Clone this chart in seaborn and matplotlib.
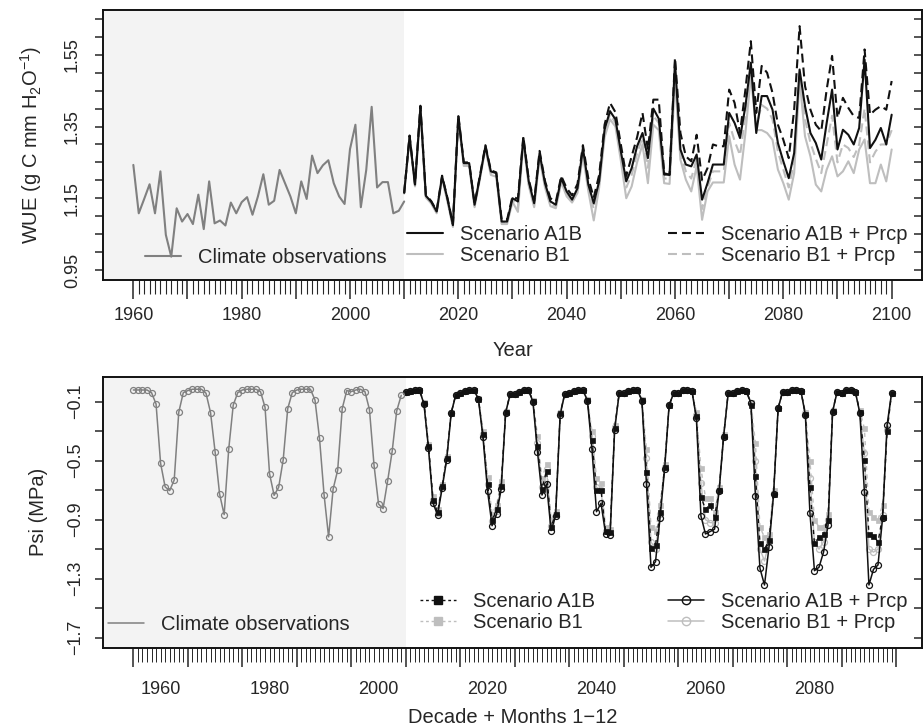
import numpy as np
import pandas as pd
import matplotlib
matplotlib.use('Agg')
import matplotlib.pyplot as plt
from matplotlib.lines import Line2D
import seaborn as sns

### Dados - painel superior (WUE anual)
obs_years = list(range(1960, 2011))
wue_obs = [1.243, 1.108, 1.148, 1.189, 1.108, 1.225, 1.048, 0.987, 1.122, 1.085,
           1.106, 1.078, 1.160, 1.064, 1.197, 1.080, 1.088, 1.074, 1.138, 1.108,
           1.139, 1.153, 1.104, 1.155, 1.217, 1.132, 1.143, 1.229, 1.192, 1.155,
           1.108, 1.197, 1.148, 1.269, 1.220, 1.242, 1.256, 1.192, 1.155, 1.134,
           1.287, 1.355, 1.125, 1.229, 1.405, 1.180, 1.195, 1.195, 1.108, 1.115,
           1.141]

scen_years = list(range(2010, 2101))
wue_a1b = [1.165, 1.323, 1.188, 1.405, 1.157, 1.140, 1.113, 1.211, 1.148, 1.075,
           1.379, 1.248, 1.248, 1.132, 1.211, 1.295, 1.225, 1.220, 1.085, 1.085,
           1.150, 1.141, 1.318, 1.197, 1.136, 1.276, 1.192, 1.141, 1.132, 1.206,
           1.169, 1.146, 1.178, 1.290, 1.188, 1.136, 1.197, 1.342, 1.393, 1.370,
           1.281, 1.197, 1.234, 1.295, 1.332, 1.262, 1.400, 1.372, 1.216, 1.216,
           1.530, 1.286, 1.244, 1.239, 1.272, 1.146, 1.192, 1.244, 1.244, 1.244,
           1.388, 1.360, 1.318, 1.407, 1.528, 1.332, 1.435, 1.435, 1.397, 1.304,
           1.253, 1.206, 1.276, 1.509, 1.407, 1.332, 1.304, 1.258, 1.360, 1.453,
           1.286, 1.341, 1.327, 1.300, 1.346, 1.537, 1.290, 1.313, 1.346, 1.300,
           1.383]
wue_b1 = [1.163, 1.318, 1.183, 1.395, 1.152, 1.135, 1.108, 1.205, 1.140, 1.070,
          1.370, 1.240, 1.240, 1.125, 1.205, 1.288, 1.215, 1.210, 1.078, 1.078,
          1.140, 1.112, 1.305, 1.185, 1.125, 1.262, 1.180, 1.128, 1.122, 1.195,
          1.155, 1.138, 1.165, 1.270, 1.170, 1.088, 1.180, 1.320, 1.370, 1.350,
          1.255, 1.150, 1.183, 1.250, 1.300, 1.192, 1.355, 1.340, 1.192, 1.190,
          1.481, 1.258, 1.202, 1.169, 1.239, 1.090, 1.169, 1.194, 1.194, 1.194,
          1.323, 1.244, 1.202, 1.332, 1.490, 1.340, 1.340, 1.332, 1.313, 1.230,
          1.192, 1.146, 1.220, 1.481, 1.323, 1.267, 1.188, 1.169, 1.230, 1.267,
          1.211, 1.225, 1.253, 1.220, 1.286, 1.314, 1.192, 1.192, 1.244, 1.197,
          1.286]
wue_a1b_prcp = [1.165, 1.325, 1.190, 1.408, 1.160, 1.142, 1.115, 1.213, 1.150, 1.078,
                1.382, 1.250, 1.250, 1.134, 1.214, 1.298, 1.228, 1.222, 1.090, 1.090,
                1.155, 1.148, 1.322, 1.202, 1.142, 1.282, 1.198, 1.150, 1.140, 1.212,
                1.178, 1.158, 1.190, 1.298, 1.205, 1.152, 1.215, 1.355, 1.416, 1.390,
                1.300, 1.212, 1.267, 1.320, 1.388, 1.285, 1.425, 1.425, 1.220, 1.215,
                1.542, 1.332, 1.267, 1.253, 1.327, 1.200, 1.234, 1.300, 1.295, 1.295,
                1.453, 1.416, 1.332, 1.453, 1.588, 1.388, 1.519, 1.500, 1.444, 1.355,
                1.313, 1.262, 1.397, 1.630, 1.463, 1.397, 1.355, 1.337, 1.453, 1.547,
                1.374, 1.430, 1.402, 1.379, 1.374, 1.565, 1.383, 1.397, 1.407, 1.397,
                1.477]
wue_b1_prcp = [1.164, 1.320, 1.185, 1.400, 1.155, 1.137, 1.110, 1.208, 1.144, 1.072,
               1.374, 1.244, 1.244, 1.128, 1.208, 1.291, 1.220, 1.215, 1.082, 1.082,
               1.145, 1.125, 1.312, 1.190, 1.130, 1.270, 1.186, 1.135, 1.127, 1.200,
               1.162, 1.142, 1.172, 1.280, 1.180, 1.120, 1.190, 1.330, 1.385, 1.360,
               1.270, 1.180, 1.215, 1.275, 1.320, 1.235, 1.380, 1.360, 1.205, 1.205,
               1.500, 1.275, 1.225, 1.205, 1.260, 1.120, 1.180, 1.225, 1.225, 1.225,
               1.360, 1.310, 1.270, 1.380, 1.515, 1.350, 1.410, 1.400, 1.370, 1.280,
               1.230, 1.180, 1.250, 1.500, 1.370, 1.305, 1.260, 1.220, 1.300, 1.380,
               1.250, 1.300, 1.290, 1.265, 1.300, 1.400, 1.250, 1.280, 1.300, 1.300,
               1.340]

### Dados - painel inferior (Psi mensal por década)
months = list(range(1, 13))
obs_decades = [1960, 1970, 1980, 1990, 2000]
scen_decades = [2010, 2020, 2030, 2040, 2050, 2060, 2070, 2080, 2090]

psi_obs = [-0.021, -0.021, -0.021, -0.021, -0.039, -0.116, -0.518, -0.678, -0.703, -0.631, -0.172, -0.039,
           -0.025, -0.016, -0.016, -0.016, -0.043, -0.174, -0.439, -0.728, -0.866, -0.423, -0.123, -0.039,
           -0.021, -0.016, -0.016, -0.016, -0.032, -0.138, -0.590, -0.735, -0.681, -0.495, -0.147, -0.039,
           -0.021, -0.016, -0.016, -0.016, -0.089, -0.349, -0.730, -1.017, -0.692, -0.565, -0.147, -0.025,
           -0.032, -0.021, -0.016, -0.032, -0.154, -0.529, -0.794, -0.825, -0.638, -0.437, -0.163, -0.057]

psi_a1b = [-0.035, -0.025, -0.020, -0.020, -0.110, -0.400, -0.770, -0.850, -0.675, -0.485, -0.175, -0.055,
           -0.043, -0.025, -0.021, -0.021, -0.080, -0.320, -0.660, -0.900, -0.830, -0.670, -0.170, -0.048,
           -0.048, -0.032, -0.021, -0.021, -0.095, -0.400, -0.690, -0.570, -0.950, -0.860, -0.180, -0.048,
           -0.043, -0.025, -0.021, -0.021, -0.090, -0.360, -0.700, -0.700, -0.980, -0.985, -0.280, -0.043,
           -0.043, -0.025, -0.021, -0.021, -0.090, -0.575, -1.090, -1.070, -0.850, -0.545, -0.125, -0.043,
           -0.043, -0.021, -0.021, -0.025, -0.200, -0.744, -0.830, -0.800, -0.880, -0.700, -0.330, -0.043,
           -0.043, -0.025, -0.021, -0.025, -0.120, -0.602, -1.060, -1.100, -1.040, -0.725, -0.145, -0.032,
           -0.032, -0.021, -0.021, -0.025, -0.185, -0.680, -1.060, -1.020, -1.000, -0.900, -0.165, -0.032,
           -0.043, -0.021, -0.021, -0.032, -0.170, -0.495, -1.000, -1.011, -1.050, -0.880, -0.300, -0.039]
psi_b1 = [-0.035, -0.025, -0.020, -0.020, -0.105, -0.390, -0.740, -0.830, -0.660, -0.470, -0.170, -0.055,
          -0.043, -0.025, -0.021, -0.021, -0.075, -0.300, -0.608, -0.860, -0.800, -0.640, -0.165, -0.048,
          -0.048, -0.032, -0.021, -0.021, -0.090, -0.330, -0.620, -0.520, -0.900, -0.840, -0.170, -0.048,
          -0.043, -0.025, -0.021, -0.021, -0.085, -0.300, -0.620, -0.650, -0.950, -0.960, -0.260, -0.043,
          -0.043, -0.025, -0.021, -0.021, -0.085, -0.420, -0.950, -0.980, -0.800, -0.520, -0.120, -0.043,
          -0.043, -0.021, -0.021, -0.025, -0.170, -0.552, -0.750, -0.750, -0.850, -0.680, -0.320, -0.043,
          -0.043, -0.025, -0.021, -0.025, -0.100, -0.382, -0.950, -1.020, -1.000, -0.700, -0.140, -0.032,
          -0.032, -0.021, -0.021, -0.025, -0.170, -0.500, -0.900, -0.950, -0.950, -0.860, -0.160, -0.032,
          -0.043, -0.021, -0.021, -0.032, -0.160, -0.281, -0.846, -0.880, -0.900, -0.800, -0.290, -0.039]
psi_a1b_prcp = [-0.035, -0.025, -0.020, -0.020, -0.116, -0.416, -0.789, -0.868, -0.688, -0.495, -0.179, -0.055,
                -0.043, -0.025, -0.021, -0.021, -0.084, -0.342, -0.703, -0.941, -0.862, -0.694, -0.174, -0.048,
                -0.048, -0.032, -0.021, -0.021, -0.100, -0.439, -0.733, -0.658, -0.974, -0.875, -0.190, -0.048,
                -0.043, -0.025, -0.021, -0.021, -0.093, -0.423, -0.846, -0.789, -0.997, -1.004, -0.290, -0.043,
                -0.043, -0.025, -0.021, -0.021, -0.093, -0.658, -1.223, -1.185, -0.886, -0.559, -0.123, -0.043,
                -0.043, -0.021, -0.021, -0.025, -0.213, -0.875, -0.997, -0.981, -0.965, -0.706, -0.337, -0.043,
                -0.043, -0.025, -0.021, -0.025, -0.111, -0.737, -1.230, -1.343, -1.083, -0.728, -0.145, -0.032,
                -0.032, -0.021, -0.021, -0.025, -0.190, -0.852, -1.246, -1.223, -1.121, -0.936, -0.168, -0.032,
                -0.043, -0.021, -0.021, -0.032, -0.179, -0.710, -1.343, -1.237, -1.207, -0.891, -0.258, -0.039]
psi_b1_prcp = [-0.035, -0.025, -0.020, -0.020, -0.112, -0.405, -0.770, -0.855, -0.675, -0.480, -0.175, -0.055,
               -0.043, -0.025, -0.021, -0.021, -0.080, -0.320, -0.660, -0.910, -0.840, -0.670, -0.170, -0.048,
               -0.048, -0.032, -0.021, -0.021, -0.095, -0.380, -0.680, -0.560, -0.940, -0.860, -0.175, -0.048,
               -0.043, -0.025, -0.021, -0.021, -0.090, -0.330, -0.680, -0.700, -0.975, -0.980, -0.270, -0.043,
               -0.043, -0.025, -0.021, -0.021, -0.090, -0.484, -1.050, -1.100, -0.860, -0.540, -0.122, -0.043,
               -0.043, -0.021, -0.021, -0.025, -0.190, -0.650, -0.900, -0.920, -0.920, -0.700, -0.330, -0.043,
               -0.043, -0.025, -0.021, -0.025, -0.110, -0.500, -1.100, -1.180, -1.050, -0.720, -0.145, -0.032,
               -0.032, -0.021, -0.021, -0.025, -0.180, -0.620, -1.050, -1.100, -1.050, -0.900, -0.165, -0.032,
               -0.043, -0.021, -0.021, -0.032, -0.170, -0.450, -1.100, -1.120, -1.100, -0.870, -0.290, -0.039]

# Eixo x do painel inferior: cada década ocupa 10 unidades, meses 1-12
def decade_months(decades):
    return [d - 5 + (m - 1) * 10 / 12 for d in decades for m in months]

x_obs = decade_months(obs_decades)
x_scen = decade_months(scen_decades)

### Estilo
sns.set_theme(style='ticks')
plt.rcParams['font.family'] = ['Liberation Sans', 'DejaVu Sans']
plt.rcParams['mathtext.fontset'] = 'custom'
plt.rcParams['mathtext.rm'] = 'Liberation Sans'
plt.rcParams['mathtext.it'] = 'Liberation Sans:italic'
plt.rcParams['axes.linewidth'] = 1.4

BLACK = '#111111'
GRAY_OBS = '#808080'
GRAY_LT = '#bebebe'
SHADE = '#f3f3f3'
DASH = (0, (4.3, 2.4))
FS_TICK = 13
FS_LAB = 14.5

fig = plt.figure(figsize=(9.24, 7.28), dpi=100)
ax1 = fig.add_axes([103 / 924, 1 - 280 / 728, 819 / 924, 270 / 728])
ax2 = fig.add_axes([103 / 924, 1 - 647.7 / 728, 819 / 924, 271 / 728])

###################################################################################################
### Painel superior
ax1.set_xlim(1954.4, 2105.6)
ax1.set_ylim(0.922, 1.675)
ax1.axvspan(1954.4, 2010, color=SHADE, lw=0, zorder=0)

sns.lineplot(x=scen_years, y=wue_b1, ax=ax1, color=GRAY_LT, lw=1.5)
sns.lineplot(x=scen_years, y=wue_b1_prcp, ax=ax1, color=GRAY_LT, lw=1.5, linestyle=DASH)
sns.lineplot(x=scen_years, y=wue_a1b, ax=ax1, color=BLACK, lw=1.5)
sns.lineplot(x=scen_years, y=wue_a1b_prcp, ax=ax1, color=BLACK, lw=1.5, linestyle=DASH)
sns.lineplot(x=obs_years, y=wue_obs, ax=ax1, color=GRAY_OBS, lw=1.5)

ax1.set_xticks(range(1960, 2101, 10))
ax1.set_xticklabels([str(y) if (y - 1960) % 20 == 0 else '' for y in range(1960, 2101, 10)])
ax1.set_xticks(range(1960, 2101), minor=True)
ax1.tick_params(axis='x', which='major', length=13.5, width=1.1, pad=6, labelsize=FS_TICK)
ax1.tick_params(axis='x', which='minor', length=10, width=0.8)

wue_ticks = [0.95 + 0.05 * k for k in range(15)]
ax1.set_yticks(wue_ticks)
ax1.set_yticklabels(['0.95' if k == 0 else '1.15' if k == 4 else '1.35' if k == 8 else '1.55' if k == 12 else ''
                     for k in range(15)])
ax1.tick_params(axis='y', which='major', length=6, width=1.1, pad=16, labelsize=FS_TICK)
plt.setp(ax1.get_yticklabels(), rotation=90, va='center', ha='center')

ax1.set_xlabel('Year', fontsize=FS_LAB)
ax1.xaxis.set_label_coords(0.5, -0.225)
ax1.set_ylabel('WUE (g C mm H$_\\mathregular{2}$O$^{\\mathregular{-1}}$)', fontsize=FS_LAB)
ax1.yaxis.set_label_coords(-0.072, 0.5)

leg_kw = dict(frameon=False, fontsize=FS_LAB, loc='center left', borderpad=0, borderaxespad=0,
              handlelength=1.8, handletextpad=0.85, labelspacing=0.1)
h_obs = [Line2D([], [], color=GRAY_OBS, lw=1.5)]
l1 = ax1.legend(h_obs, ['Climate observations'], bbox_to_anchor=(0.0513, 0.085), **leg_kw)
ax1.add_artist(l1)
h_c1 = [Line2D([], [], color=BLACK, lw=1.5), Line2D([], [], color=GRAY_LT, lw=1.5)]
l2 = ax1.legend(h_c1, ['Scenario A1B', 'Scenario B1'], bbox_to_anchor=(0.371, 0.13), **leg_kw)
ax1.add_artist(l2)
h_c2 = [Line2D([], [], color=BLACK, lw=1.5, linestyle=DASH),
        Line2D([], [], color=GRAY_LT, lw=1.5, linestyle=DASH)]
ax1.legend(h_c2, ['Scenario A1B + Prcp', 'Scenario B1 + Prcp'], bbox_to_anchor=(0.690, 0.13), **leg_kw)

###################################################################################################
### Painel inferior
ax2.set_xlim(1949.43, 2099.74)
ax2.set_ylim(-1.768, 0.069)
ax2.axvspan(1949.43, 2005, color=SHADE, lw=0, zorder=0)

mk = dict(markersize=4.3, markeredgewidth=0.9)
sns.lineplot(x=x_scen, y=psi_b1_prcp, ax=ax2, color=GRAY_LT, lw=1.0, marker='o',
             markerfacecolor='none', markeredgecolor=GRAY_LT, **mk)
sns.lineplot(x=x_scen, y=psi_b1, ax=ax2, color=GRAY_LT, lw=1.0, linestyle=(0, (3, 3)), marker='s',
             markerfacecolor=GRAY_LT, markeredgecolor=GRAY_LT, markersize=3.6, markeredgewidth=0.5)
sns.lineplot(x=x_scen, y=psi_a1b, ax=ax2, color=BLACK, lw=1.0, linestyle=(0, (3, 3)), marker='s',
             markerfacecolor=BLACK, markeredgecolor=BLACK, markersize=3.6, markeredgewidth=0.5)
sns.lineplot(x=x_scen, y=psi_a1b_prcp, ax=ax2, color=BLACK, lw=1.1, marker='o',
             markerfacecolor='none', markeredgecolor=BLACK, **mk)
sns.lineplot(x=x_obs, y=psi_obs, ax=ax2, color=GRAY_OBS, lw=1.1, marker='o',
             markerfacecolor='none', markeredgecolor=GRAY_OBS, **mk)

ax2.set_xticks(range(1955, 2096, 10))
ax2.set_xticklabels([])
ax2.set_xticks([1955 + k * 10 / 12 for k in range(14 * 12 + 1)], minor=True)
ax2.tick_params(axis='x', which='major', length=13.5, width=1.1)
ax2.tick_params(axis='x', which='minor', length=10, width=0.7)

sec = ax2.secondary_xaxis('bottom')
sec.set_xticks(range(1960, 2081, 20))
sec.tick_params(length=0, pad=24, labelsize=FS_TICK)
sec.spines['bottom'].set_visible(False)

psi_ticks = [-1.7, -1.5, -1.3, -1.1, -0.9, -0.7, -0.5, -0.3, -0.1]
ax2.set_yticks(psi_ticks)
ax2.set_yticklabels(['\u22121.7', '', '\u22121.3', '', '\u22120.9', '', '\u22120.5', '', '\u22120.1'])
ax2.tick_params(axis='y', which='major', length=6, width=1.1, pad=14, labelsize=FS_TICK)
plt.setp(ax2.get_yticklabels(), rotation=90, va='center', ha='center')

ax2.set_xlabel('Decade + Months 1\u221212', fontsize=FS_LAB)
ax2.xaxis.set_label_coords(0.5, -0.222)
ax2.set_ylabel('Psi (MPa)', fontsize=FS_LAB)
ax2.yaxis.set_label_coords(-0.067, 0.5)

l3 = ax2.legend([Line2D([], [], color=GRAY_OBS, lw=1.1)], ['Climate observations'],
                bbox_to_anchor=(0.006, 0.084), **leg_kw)
ax2.add_artist(l3)
h_b1 = [Line2D([], [], color=BLACK, lw=1.0, linestyle=(0, (2, 2)), marker='s', markersize=6,
               markerfacecolor=BLACK, markeredgecolor=BLACK),
        Line2D([], [], color=GRAY_LT, lw=1.0, linestyle=(0, (2, 2)), marker='s', markersize=6,
               markerfacecolor=GRAY_LT, markeredgecolor=GRAY_LT)]
l4 = ax2.legend(h_b1, ['Scenario A1B', 'Scenario B1'], bbox_to_anchor=(0.387, 0.13), **leg_kw)
ax2.add_artist(l4)
h_b2 = [Line2D([], [], color=BLACK, lw=1.1, marker='o', markersize=6,
               markerfacecolor='none', markeredgecolor=BLACK),
        Line2D([], [], color=GRAY_LT, lw=1.1, marker='o', markersize=6,
               markerfacecolor='none', markeredgecolor=GRAY_LT)]
ax2.legend(h_b2, ['Scenario A1B + Prcp', 'Scenario B1 + Prcp'], bbox_to_anchor=(0.690, 0.13), **leg_kw)

# Marcas internas no eixo direito
for ax, ticks in ((ax1, wue_ticks), (ax2, psi_ticks)):
    right = ax.secondary_yaxis('right')
    right.set_yticks(ticks)
    right.tick_params(direction='in', length=6, width=1.1, labelright=False)
    right.spines['right'].set_visible(False)
    for s in ax.spines.values():
        s.set_visible(True)
        s.set_linewidth(1.4)
        s.set_color(BLACK)

fig.savefig('out.png', dpi=100)
